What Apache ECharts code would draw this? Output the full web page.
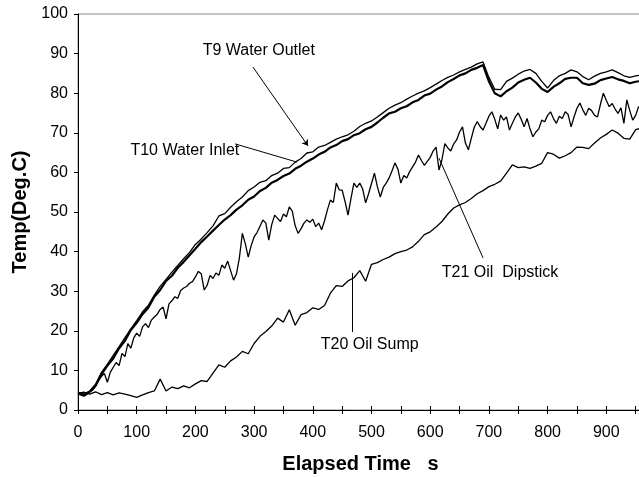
<!DOCTYPE html>
<html>
<head>
<meta charset="utf-8">
<script src="https://cdn.jsdelivr.net/npm/echarts@6/dist/echarts.min.js"></script>
<style>html,body{margin:0;padding:0;background:#fff}#c{width:639px;height:477px}</style>
</head>
<body>
<div id="c"></div>
<script>
// time axis (s) for 10-s sampled series
const time10 = [0,10,20,30,40,50,60,70,80,90,100,110,120,130,140,150,160,170,180,190,200,210,220,230,240,250,260,270,280,290,300,310,320,330,340,350,360,370,380,390,400,410,420,430,440,450,460,470,480,490,500,510,520,530,540,550,560,570,580,590,600,610,620,630,640,650,660,670,680,690,700,710,720,730,740,750,760,770,780,790,800,810,820,830,840,850,860,870,880,890,900,910,920,930,940,950,960];
// T9 Water Outlet
const t9 = [4.5,4,4.8,6.5,9.5,11.5,13.8,16,18.3,20.5,22.6,24.8,26.5,29,31.2,33,34.8,36.5,38.2,39.8,41.8,43.2,44.8,46.5,49,49.6,51.2,52.6,53.8,55.4,56.3,57.5,57.9,59.2,59.8,61,61.2,62.6,63.5,64.9,65.2,66.4,66.8,67.6,68.4,69,69.5,70.4,71.6,72.4,73,74,75.1,76.2,77,77.6,78.5,79.3,80,80.6,81.4,82.3,83.2,84,84.6,85.4,86,86.6,87.4,87.9,84,81,80.9,83,83.8,84.8,85.6,86,85,83,81.3,83.2,84.4,85,85.9,85.4,84.2,83.4,84.3,85,85.4,85.9,85.2,84.4,84,84.4,84.6];
// T10 Water Inlet
const t10 = [4.2,3.6,4.6,6.2,9,11.2,13,15.6,17.5,20.2,22,24.2,25.9,28.6,30.3,32.6,33.9,35.9,37.4,39.1,40.7,42.4,43.8,45.3,46.7,48.1,49.2,50.6,51.7,53.1,53.9,55.3,56.1,57.4,58.1,59.1,59.7,60.9,61.7,62.7,63.5,64.5,65.2,66.3,66.9,67.9,68.4,69.4,69.9,70.9,71.5,72.6,73.8,74.9,75.3,76.2,76.7,77.7,78.3,79.4,79.9,80.9,81.7,82.8,83.6,84.5,85,85.9,86.4,87.1,83,80,79.2,80.5,81.4,82.7,83.4,83.9,82.7,81.1,80.3,81.6,82.5,83.6,83.9,83.9,82.5,82.1,82.4,83.3,83.7,84.1,83.5,83.1,82.5,82.9,83.1];
// T20 Oil Sump
const t20 = [4.2,4.5,4,4.6,3.9,4.4,3.8,4.3,4,3.6,3.2,3.8,4.4,4.8,7.8,4.8,5.8,5.4,6.1,5.6,6.6,7.4,7.2,9.3,11.4,10.8,12.4,13.4,14.8,14.2,16.8,18.6,19.8,21.2,23.2,22.2,25.3,21.4,24.1,24.6,25.8,25.4,26.4,29.5,31.4,31.2,32.6,33.4,35.2,32.5,36.8,37.2,38,38.6,39.5,40,40.4,41.2,42.6,44.3,45,46.2,47.6,49.5,51,51.8,52.4,53.4,54.6,55.4,56.4,57,57.8,59.8,61.9,61.2,61.4,61,61.6,62.3,65,64.6,63.6,64.2,65,66.4,66.3,66,67.4,68.7,69.6,70.7,69.9,68.6,68.4,70.8,71.2];
// time axis (s) for 5-s sampled T21
const time5 = [0,5,10,15,20,25,30,35,40,45,50,55,60,65,70,75,80,85,90,95,100,105,110,115,120,125,130,135,140,145,150,155,160,165,170,175,180,185,190,195,200,205,210,215,220,225,230,235,240,245,250,255,260,265,270,275,280,285,290,295,300,305,310,315,320,325,330,335,340,345,350,355,360,365,370,375,380,385,390,395,400,405,410,415,420,425,430,435,440,445,450,455,460,465,470,475,480,485,490,495,500,505,510,515,520,525,530,535,540,545,550,555,560,565,570,575,580,585,590,595,600,605,610,615,620,625,630,635,640,645,650,655,660,665,670,675,680,685,690,695,700,705,710,715,720,725,730,735,740,745,750,755,760,765,770,775,780,785,790,795,800,805,810,815,820,825,830,835,840,845,850,855,860,865,870,875,880,885,890,895,900,905,910,915,920,925,930,935,940,945,950,955,960];
// T21 Oil Dipstick
const t21 = [4,4.2,3.8,4.4,4.6,5,6,7.5,8.5,9.2,7,9.5,10.8,12,11.2,14.3,13.5,16.8,15.6,18.2,19.4,18.6,21,21.8,20.8,22.7,23.5,24.2,25.4,26,23,26.8,27.6,28.6,28.2,30.2,30.8,31.2,32,32.4,33.6,35,34.4,30.3,31.5,34,33.2,34.6,34,36.6,35.8,37.6,35.2,32.8,34.4,38.5,44.6,42,38.6,41.5,43.7,44.8,46.4,48,47.2,42.9,46.8,49.2,48.4,47.6,49.5,48.8,51.3,50.2,46.5,44.6,45.8,47.2,48,47.4,48.2,46.3,47.2,45.5,47.8,50.6,53,52.4,57.3,55.6,55.5,52.6,49.2,53.4,57.3,56.2,57.3,55.8,52.3,54.6,57.2,59.8,56.4,53.8,56.2,57.3,58.6,60.4,62.4,60.8,57.3,59.2,58.6,60.2,61.4,62.6,64.4,63,61.8,62.8,63.8,65.4,66.4,60.6,63.2,67.3,66.2,65.4,67.2,68.2,70.2,71.5,67.4,65.7,68.6,71.4,72.8,71.6,70.7,72.4,74.2,75.3,73.4,71,74.5,73.2,74,70.7,72.4,74,75,73.4,71.5,73.6,71,69,70.2,71,73.2,72.8,74.4,75.3,73.6,72.4,74.2,73.6,75.3,74.6,71.5,74,76.2,77.5,75.8,74.4,76.2,75.6,74.4,74,77.2,80,78.2,76.6,77.4,76,74.9,76.3,72.4,78.3,75.6,73.2,74.4,76.6,75.8];

// annotation texts and anchors (data coordinates)
const labelTexts = ['T9 Water Outlet', 'T10 Water Inlet', 'T21 Oil  Dipstick', 'T20 Oil Sump'];
const labelAt = [[308, 90.7], [182, 65.4], [719, 34.8], [497, 16.4]];
const leaderFrom = [[298, 86.6], [267.5, 67.2], [615, 63.6], [466.8, 34.6]];
const leaderTo = [[391.8, 66.7], [373, 62.6], [690, 38.4], [466.8, 19.7]];

const xTicks = [0,100,200,300,400,500,600,700,800,900];
const yTicks = [0,10,20,30,40,50,60,70,80,90,100];

const pair = (xs, ys) => ys.map((v, i) => [xs[i], v]);
const FONT = 'Liberation Sans, Arial, sans-serif';

const chart = echarts.init(document.getElementById('c'), null, {renderer: 'canvas'});

const lineSeries = (name, xs, ys, w) => ({
  name, type: 'line', data: pair(xs, ys), xAxisIndex: 0, yAxisIndex: 0,
  showSymbol: false, symbol: 'none', smooth: false,
  lineStyle: {color: '#000', width: w}, animation: false, silent: true
});

const annot = {
  type: 'line', data: [], xAxisIndex: 0, yAxisIndex: 0, silent: true, animation: false,
  markLine: {
    silent: true, animation: false, symbol: ['none', 'none'],
    lineStyle: {color: '#000', width: 1, type: 'solid'},
    label: {show: false},
    data: leaderFrom.map((f, i) => [
      {coord: f, symbol: 'none'},
      {coord: leaderTo[i], symbol: i === 0 ? 'arrow' : 'none', symbolSize: 6}
    ])
  },
  markPoint: {
    silent: true, animation: false, symbol: 'circle', symbolSize: 0,
    itemStyle: {color: 'transparent'},
    label: {show: true, position: 'inside', color: '#000', fontSize: 16, fontFamily: FONT},
    data: labelTexts.map((t, i) => ({coord: labelAt[i], value: t, label: {formatter: t}}))
  }
};

chart.setOption({
  backgroundColor: '#fff',
  animation: false,
  grid: {left: 78, top: 14, bottom: 67, right: -26, containLabel: false, outerBoundsMode: 'none',
    show: true, borderColor: '#888', borderWidth: 1, backgroundColor: '#fff'},
  xAxis: [{
    type: 'value', min: 0, max: 1000, interval: 50,
    name: 'Elapsed Time   s', nameLocation: 'middle', nameGap: 44,
    nameTextStyle: {fontSize: 20, fontWeight: 'bold', color: '#000', fontFamily: FONT, padding: [0, 22, 0, 0]},
    axisLine: {show: true, onZero: false, lineStyle: {color: '#000', width: 1}},
    axisTick: {show: true, inside: false, length: 4, lineStyle: {color: '#000'}},
    axisLabel: {color: '#000', fontSize: 16, fontFamily: FONT, margin: 15,
      formatter: v => xTicks.indexOf(v) >= 0 ? String(v) : ''},
    splitLine: {show: false}
  }, {
    type: 'value', min: 0, max: 1000, interval: 50, position: 'bottom', gridIndex: 0,
    axisLine: {show: false}, axisLabel: {show: false}, splitLine: {show: false},
    axisTick: {show: true, inside: true, length: 4, lineStyle: {color: '#000'}}
  }],
  yAxis: {
    type: 'value', min: 0, max: 100, interval: 10,
    name: 'Temp(Deg.C)', nameLocation: 'middle', nameGap: 45,
    nameTextStyle: {fontSize: 20, fontWeight: 'bold', color: '#000', fontFamily: FONT},
    axisLine: {show: true, onZero: false, lineStyle: {color: '#000', width: 1}},
    axisTick: {show: true, inside: false, length: 4, lineStyle: {color: '#000'}},
    axisLabel: {color: '#000', fontSize: 16, fontFamily: FONT, margin: 10,
      formatter: v => yTicks.indexOf(v) >= 0 ? String(v) : ''},
    splitLine: {show: false}
  },
  series: [
    lineSeries('T20 Oil Sump', time10, t20, 1.3),
    lineSeries('T21 Oil Dipstick', time5, t21, 1.3),
    lineSeries('T9 Water Outlet', time10, t9, 1.3),
    lineSeries('T10 Water Inlet', time10, t10, 2.2),
    annot
  ]
});
</script>
</body>
</html>
